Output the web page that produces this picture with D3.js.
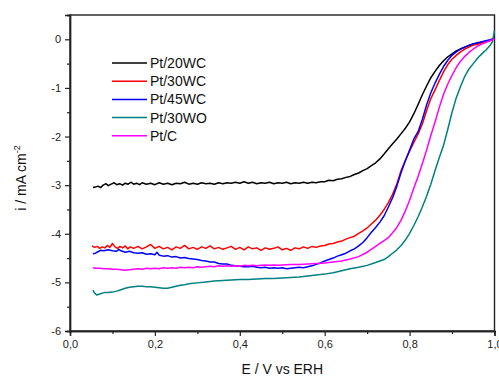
<!DOCTYPE html>
<html><head><meta charset="utf-8">
<script src="https://cdn.jsdelivr.net/npm/d3@7"></script>
<style>body{margin:0;background:#fff}svg{display:block;font-family:"Liberation Sans",Arial,sans-serif}</style>
</head><body><svg id="c" width="499" height="376"></svg>
<script>
const seriesNames = ["Pt/20WC","Pt/30WC","Pt/45WC","Pt/30WO","Pt/C"];
const seriesColors = ["#000000","#ff0000","#0000ff","#008080","#ff00ff"];
const xTicks = [0,0.2,0.4,0.6,0.8,1.0];
const xTickLabels = ["0,0","0,2","0,4","0,6","0,8","1,0"];
const yTicks = [0,-1,-2,-3,-4,-5,-6];

const pt20WC = [[0.054,-3.05],[0.06,-3.04],[0.066,-3.02],[0.072,-3.05],[0.078,-3.00],[0.085,-2.97],[0.09,-3.01],[0.097,-2.98],[0.104,-2.95],[0.11,-2.99],[0.117,-2.97],[0.124,-3.00],[0.13,-2.96],[0.137,-2.98],[0.144,-2.94],[0.15,-2.98],[0.157,-2.96],[0.164,-2.99],[0.17,-2.95],[0.18,-2.98],[0.19,-2.96],[0.2,-2.99],[0.21,-2.95],[0.22,-2.98],[0.23,-2.96],[0.24,-2.99],[0.25,-2.96],[0.26,-2.97],[0.27,-2.94],[0.28,-2.98],[0.29,-2.96],[0.3,-2.98],[0.31,-2.95],[0.32,-2.97],[0.33,-2.96],[0.34,-2.98],[0.35,-2.95],[0.36,-2.97],[0.37,-2.95],[0.38,-2.96],[0.39,-2.94],[0.4,-2.96],[0.41,-2.93],[0.42,-2.96],[0.43,-2.94],[0.44,-2.97],[0.45,-2.95],[0.46,-2.96],[0.47,-2.94],[0.48,-2.97],[0.49,-2.95],[0.5,-2.96],[0.51,-2.94],[0.52,-2.97],[0.53,-2.95],[0.54,-2.96],[0.55,-2.94],[0.56,-2.96],[0.57,-2.94],[0.58,-2.95],[0.59,-2.93],[0.6,-2.93],[0.61,-2.90],[0.62,-2.91],[0.63,-2.88],[0.64,-2.87],[0.65,-2.84],[0.66,-2.82],[0.67,-2.78],[0.68,-2.75],[0.69,-2.70],[0.7,-2.66],[0.71,-2.60],[0.72,-2.54],[0.73,-2.46],[0.74,-2.36],[0.75,-2.25],[0.76,-2.15],[0.77,-2.05],[0.78,-1.94],[0.79,-1.83],[0.8,-1.70],[0.81,-1.53],[0.82,-1.34],[0.83,-1.14],[0.84,-0.96],[0.85,-0.79],[0.86,-0.66],[0.87,-0.54],[0.88,-0.44],[0.89,-0.36],[0.9,-0.30],[0.91,-0.24],[0.92,-0.20],[0.93,-0.16],[0.94,-0.13],[0.95,-0.10],[0.96,-0.08],[0.97,-0.06],[0.98,-0.04],[0.99,-0.02],[1.0,0.02]];

const pt30WC = [[0.052,-4.25],[0.058,-4.28],[0.064,-4.26],[0.07,-4.30],[0.076,-4.27],[0.082,-4.29],[0.088,-4.24],[0.094,-4.28],[0.1,-4.20],[0.106,-4.27],[0.112,-4.30],[0.118,-4.26],[0.124,-4.29],[0.13,-4.25],[0.136,-4.31],[0.142,-4.27],[0.15,-4.30],[0.16,-4.26],[0.17,-4.31],[0.18,-4.27],[0.19,-4.22],[0.2,-4.30],[0.21,-4.26],[0.22,-4.31],[0.23,-4.28],[0.24,-4.33],[0.25,-4.27],[0.26,-4.30],[0.27,-4.24],[0.28,-4.31],[0.29,-4.28],[0.3,-4.32],[0.31,-4.27],[0.32,-4.30],[0.33,-4.25],[0.34,-4.31],[0.35,-4.28],[0.36,-4.32],[0.37,-4.29],[0.38,-4.26],[0.39,-4.32],[0.4,-4.28],[0.41,-4.33],[0.42,-4.27],[0.43,-4.31],[0.44,-4.29],[0.45,-4.34],[0.46,-4.29],[0.47,-4.32],[0.48,-4.30],[0.49,-4.27],[0.5,-4.33],[0.51,-4.30],[0.52,-4.34],[0.53,-4.29],[0.54,-4.31],[0.55,-4.27],[0.56,-4.30],[0.57,-4.26],[0.58,-4.28],[0.59,-4.25],[0.6,-4.24],[0.61,-4.21],[0.62,-4.20],[0.63,-4.17],[0.64,-4.15],[0.65,-4.11],[0.66,-4.08],[0.67,-4.05],[0.68,-3.99],[0.69,-3.94],[0.7,-3.88],[0.71,-3.80],[0.72,-3.72],[0.73,-3.62],[0.74,-3.50],[0.75,-3.36],[0.76,-3.19],[0.77,-2.97],[0.78,-2.70],[0.79,-2.49],[0.8,-2.30],[0.81,-2.12],[0.82,-1.95],[0.83,-1.74],[0.84,-1.47],[0.85,-1.22],[0.86,-1.04],[0.87,-0.85],[0.88,-0.67],[0.89,-0.52],[0.9,-0.41],[0.91,-0.33],[0.92,-0.26],[0.93,-0.20],[0.94,-0.16],[0.95,-0.12],[0.96,-0.10],[0.97,-0.07],[0.98,-0.05],[0.99,-0.02],[1.0,0.01]];

const pt45WC = [[0.054,-4.41],[0.06,-4.40],[0.066,-4.37],[0.072,-4.34],[0.08,-4.35],[0.09,-4.33],[0.1,-4.35],[0.11,-4.36],[0.115,-4.32],[0.12,-4.35],[0.13,-4.38],[0.14,-4.36],[0.15,-4.39],[0.16,-4.40],[0.17,-4.39],[0.18,-4.42],[0.19,-4.41],[0.2,-4.43],[0.205,-4.38],[0.21,-4.44],[0.22,-4.46],[0.23,-4.45],[0.24,-4.48],[0.25,-4.47],[0.26,-4.50],[0.27,-4.49],[0.28,-4.51],[0.29,-4.52],[0.3,-4.53],[0.31,-4.55],[0.32,-4.56],[0.33,-4.58],[0.34,-4.58],[0.35,-4.61],[0.36,-4.62],[0.37,-4.62],[0.38,-4.65],[0.39,-4.66],[0.4,-4.67],[0.41,-4.68],[0.42,-4.68],[0.43,-4.67],[0.44,-4.69],[0.45,-4.70],[0.46,-4.69],[0.47,-4.71],[0.48,-4.70],[0.49,-4.71],[0.5,-4.70],[0.51,-4.72],[0.52,-4.71],[0.53,-4.70],[0.54,-4.69],[0.55,-4.70],[0.56,-4.68],[0.57,-4.66],[0.58,-4.63],[0.59,-4.60],[0.6,-4.56],[0.61,-4.53],[0.62,-4.50],[0.63,-4.46],[0.64,-4.43],[0.65,-4.40],[0.66,-4.35],[0.67,-4.31],[0.68,-4.25],[0.69,-4.18],[0.7,-4.08],[0.71,-3.97],[0.72,-3.87],[0.73,-3.76],[0.74,-3.63],[0.75,-3.45],[0.76,-3.26],[0.77,-3.02],[0.78,-2.74],[0.79,-2.50],[0.8,-2.28],[0.81,-2.05],[0.82,-1.90],[0.83,-1.65],[0.84,-1.35],[0.85,-1.10],[0.86,-0.90],[0.87,-0.72],[0.88,-0.56],[0.89,-0.43],[0.9,-0.33],[0.91,-0.26],[0.92,-0.20],[0.93,-0.16],[0.94,-0.12],[0.95,-0.09],[0.96,-0.07],[0.97,-0.05],[0.98,-0.03],[0.99,-0.01],[1.0,0.02]];

const pt30WO = [[0.054,-5.16],[0.058,-5.22],[0.063,-5.26],[0.07,-5.24],[0.08,-5.21],[0.09,-5.21],[0.1,-5.20],[0.11,-5.18],[0.12,-5.15],[0.13,-5.12],[0.14,-5.10],[0.15,-5.09],[0.16,-5.08],[0.17,-5.08],[0.18,-5.09],[0.19,-5.09],[0.2,-5.10],[0.21,-5.11],[0.22,-5.12],[0.23,-5.12],[0.24,-5.10],[0.25,-5.08],[0.26,-5.06],[0.27,-5.05],[0.28,-5.03],[0.29,-5.02],[0.3,-5.01],[0.32,-4.99],[0.34,-4.97],[0.36,-4.96],[0.38,-4.95],[0.4,-4.94],[0.42,-4.94],[0.44,-4.93],[0.46,-4.92],[0.48,-4.92],[0.5,-4.91],[0.52,-4.90],[0.54,-4.89],[0.56,-4.87],[0.58,-4.85],[0.6,-4.83],[0.62,-4.80],[0.64,-4.76],[0.66,-4.72],[0.68,-4.69],[0.7,-4.65],[0.72,-4.59],[0.74,-4.53],[0.75,-4.47],[0.76,-4.40],[0.77,-4.33],[0.78,-4.24],[0.79,-4.13],[0.8,-3.99],[0.81,-3.83],[0.82,-3.65],[0.83,-3.45],[0.84,-3.23],[0.85,-2.98],[0.86,-2.70],[0.87,-2.43],[0.88,-2.18],[0.89,-1.85],[0.9,-1.50],[0.91,-1.20],[0.92,-0.97],[0.93,-0.76],[0.94,-0.61],[0.95,-0.50],[0.96,-0.39],[0.97,-0.30],[0.98,-0.22],[0.99,-0.12],[0.995,-0.05],[1.0,0.18]];

const ptC = [[0.054,-4.70],[0.06,-4.71],[0.07,-4.71],[0.08,-4.72],[0.09,-4.72],[0.1,-4.73],[0.11,-4.73],[0.12,-4.74],[0.13,-4.75],[0.14,-4.74],[0.15,-4.73],[0.16,-4.72],[0.17,-4.73],[0.18,-4.71],[0.19,-4.72],[0.2,-4.71],[0.21,-4.72],[0.22,-4.70],[0.23,-4.71],[0.24,-4.70],[0.25,-4.71],[0.26,-4.69],[0.27,-4.70],[0.28,-4.69],[0.29,-4.70],[0.3,-4.68],[0.31,-4.69],[0.32,-4.68],[0.33,-4.67],[0.34,-4.68],[0.35,-4.66],[0.36,-4.67],[0.37,-4.66],[0.38,-4.67],[0.39,-4.66],[0.4,-4.67],[0.41,-4.65],[0.42,-4.66],[0.43,-4.65],[0.44,-4.66],[0.45,-4.65],[0.46,-4.64],[0.47,-4.65],[0.48,-4.64],[0.49,-4.65],[0.5,-4.64],[0.52,-4.63],[0.54,-4.63],[0.56,-4.62],[0.58,-4.61],[0.6,-4.60],[0.62,-4.58],[0.64,-4.56],[0.66,-4.52],[0.68,-4.47],[0.7,-4.38],[0.72,-4.26],[0.73,-4.20],[0.74,-4.14],[0.75,-4.08],[0.76,-3.98],[0.77,-3.87],[0.78,-3.72],[0.79,-3.53],[0.8,-3.31],[0.81,-3.06],[0.82,-2.82],[0.83,-2.56],[0.84,-2.28],[0.85,-1.98],[0.86,-1.70],[0.87,-1.40],[0.88,-1.13],[0.89,-0.92],[0.9,-0.74],[0.91,-0.58],[0.92,-0.45],[0.93,-0.35],[0.94,-0.27],[0.95,-0.20],[0.96,-0.14],[0.97,-0.10],[0.98,-0.06],[0.99,-0.03],[1.0,0.01]];

const seriesData = [pt20WC, pt30WC, pt45WC, pt30WO, ptC];

const svg = d3.select("#c");
const L = 70, R = 494.5, T = 15, B = 331;
const x = d3.scaleLinear().domain([0, 1.0]).range([L, R]);
const y = d3.scaleLinear().domain([-6, 0.5]).range([B, T]);

svg.append("rect").attr("x", L).attr("y", T).attr("width", R - L).attr("height", B - T)
  .attr("fill", "none").attr("stroke", "#222").attr("stroke-width", 1.4);

const xAxis = svg.append("g").attr("transform", `translate(0,${B})`)
  .call(d3.axisBottom(x).tickValues(xTicks).tickSize(5).tickPadding(4).tickFormat((d,i)=>xTickLabels[i]));
const xMinor = svg.append("g").attr("transform", `translate(0,${B})`)
  .call(d3.axisBottom(x).tickValues([0.1,0.3,0.5,0.7,0.9]).tickSize(3).tickFormat(""));
const yAxis = svg.append("g").attr("transform", `translate(${L},0)`)
  .call(d3.axisLeft(y).tickValues(yTicks).tickSize(5).tickPadding(4).tickFormat(d => d === 0 ? "0" : "-" + Math.abs(d)));
const yMinor = svg.append("g").attr("transform", `translate(${L},0)`)
  .call(d3.axisLeft(y).tickValues([0.5,-0.5,-1.5,-2.5,-3.5,-4.5,-5.5]).tickSize(3).tickFormat(""));
[xAxis, xMinor, yAxis, yMinor].forEach(g => {
  g.select(".domain").attr("stroke", "#222").attr("stroke-width", 1.4);
  g.selectAll(".tick line").attr("stroke", "#222").attr("stroke-width", 1.2);
  g.selectAll(".tick text").attr("fill", "#222").attr("font-size", 11).attr("font-family", '"Liberation Sans", Arial, sans-serif');
});

const line = d3.line().x(d => x(d[0])).y(d => y(d[1]));
seriesData.forEach((s, i) => {
  svg.append("path").datum(s).attr("d", line).attr("fill", "none")
    .attr("stroke", seriesColors[i]).attr("stroke-width", 1.5).attr("stroke-linejoin", "round");
});

const lg = svg.append("g");
seriesNames.forEach((n, i) => {
  const cy = 63 + i * 18.2;
  lg.append("line").attr("x1", 112).attr("x2", 147).attr("y1", cy).attr("y2", cy)
    .attr("stroke", seriesColors[i]).attr("stroke-width", 1.5);
  lg.append("text").attr("x", 150).attr("y", cy + 5).attr("font-size", 14).attr("fill", "#111").text(n);
});

svg.append("text").attr("x", (L + R) / 2).attr("y", 374).attr("text-anchor", "middle")
  .attr("font-size", 14).attr("fill", "#111").text("E / V vs ERH");
const yt = svg.append("text").attr("transform", `translate(26,178) rotate(-90)`).attr("text-anchor", "middle")
  .attr("font-size", 14).attr("fill", "#111");
yt.append("tspan").text("i / mA cm");
yt.append("tspan").attr("dy", -6).attr("font-size", 9).text("-2");
</script></body></html>
